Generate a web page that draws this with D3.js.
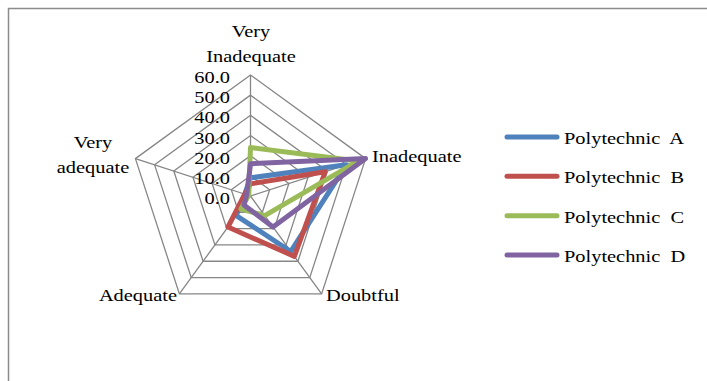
<!DOCTYPE html>
<html><head><meta charset="utf-8">
<script src="https://cdn.jsdelivr.net/npm/d3@7"></script>
<style>
html,body{margin:0;padding:0;background:#fff;}
text{font-family:"Liberation Serif","Times New Roman",serif;font-size:17px;fill:#000;white-space:pre;}
</style></head>
<body>
<svg id="chart" width="707" height="381"></svg>
<script>
const categories = ["Very Inadequate", "Inadequate", "Doubtful", "Adequate", "Very adequate"];
const seriesNames = ["Polytechnic  A", "Polytechnic  B", "Polytechnic  C", "Polytechnic  D"];
const polyA = [9, 50, 34, 12, 3];
const polyB = [6, 39, 37, 19, 3];
const polyC = [24, 56, 12, 8, 1];
const polyD = [16, 60, 19, 5.5, 2];
const tickValues = [0, 10, 20, 30, 40, 50, 60];
const colors = ["#4F81BD", "#C0504D", "#9BBB59", "#8064A2"];

const seriesValues = [polyA, polyB, polyC, polyD];
const svg = d3.select("#chart");
const cx = 250.5, cy = 196;
const r = d3.scaleLinear().domain([0, 60]).range([0, 121]);
const ang = d3.scalePoint().domain(categories).range([0, 2 * Math.PI * 4 / 5]);
const SX = 1.2;

function pt(cat, v) {
  const a = ang(cat);
  return [cx + r(v) * Math.sin(a), cy - r(v) * Math.cos(a)];
}

// frame
svg.append("rect").attr("x", 8.5).attr("y", 8.5).attr("width", 720).attr("height", 400)
  .attr("fill", "none").attr("stroke", "#8c8c8c").attr("stroke-width", 1.5);

// grid
const gridG = svg.append("g");
tickValues.filter(t => t > 0).forEach(t => {
  gridG.append("path")
    .attr("d", d3.line()(categories.map(c => pt(c, t))) + "Z")
    .attr("fill", "none").attr("stroke", "#868686").attr("stroke-width", 1.3);
});
categories.forEach(c => {
  const p = pt(c, 60);
  gridG.append("line").attr("x1", cx).attr("y1", cy).attr("x2", p[0]).attr("y2", p[1])
    .attr("stroke", "#868686").attr("stroke-width", 1.3);
});

function txt(x, y, s, anchor) {
  return svg.append("text").attr("transform", `translate(${x},${y}) scale(${SX},1)`)
    .attr("text-anchor", anchor).text(s);
}

// tick labels
tickValues.forEach(t => {
  txt(230, cy - r(t) + 8, d3.format(".1f")(t), "end");
});

// axis labels
txt(251, 37, "Very", "middle");
txt(251, 62, "Inadequate", "middle");
txt(372, 162, "Inadequate", "start");
txt(326, 301, "Doubtful", "start");
txt(177, 301, "Adequate", "end");
txt(93, 148, "Very", "middle");
txt(93, 173, "adequate", "middle");

// series
const lineGen = d3.line().curve(d3.curveLinearClosed);
seriesValues.forEach((vals, i) => {
  svg.append("path")
    .attr("d", lineGen(categories.map((c, j) => pt(c, vals[j]))))
    .attr("fill", "none").attr("stroke", colors[i]).attr("stroke-width", 5)
    .attr("stroke-linejoin", "round");
});

// legend
const legY = d3.scaleLinear().domain([0, 3]).range([137, 255]);
seriesNames.forEach((n, i) => {
  const y = legY(i);
  svg.append("line").attr("x1", 507).attr("x2", 557).attr("y1", y).attr("y2", y)
    .attr("stroke", colors[i]).attr("stroke-width", 5).attr("stroke-linecap", "round");
  txt(564, y + 7, n, "start");
});
</script>
</body></html>
